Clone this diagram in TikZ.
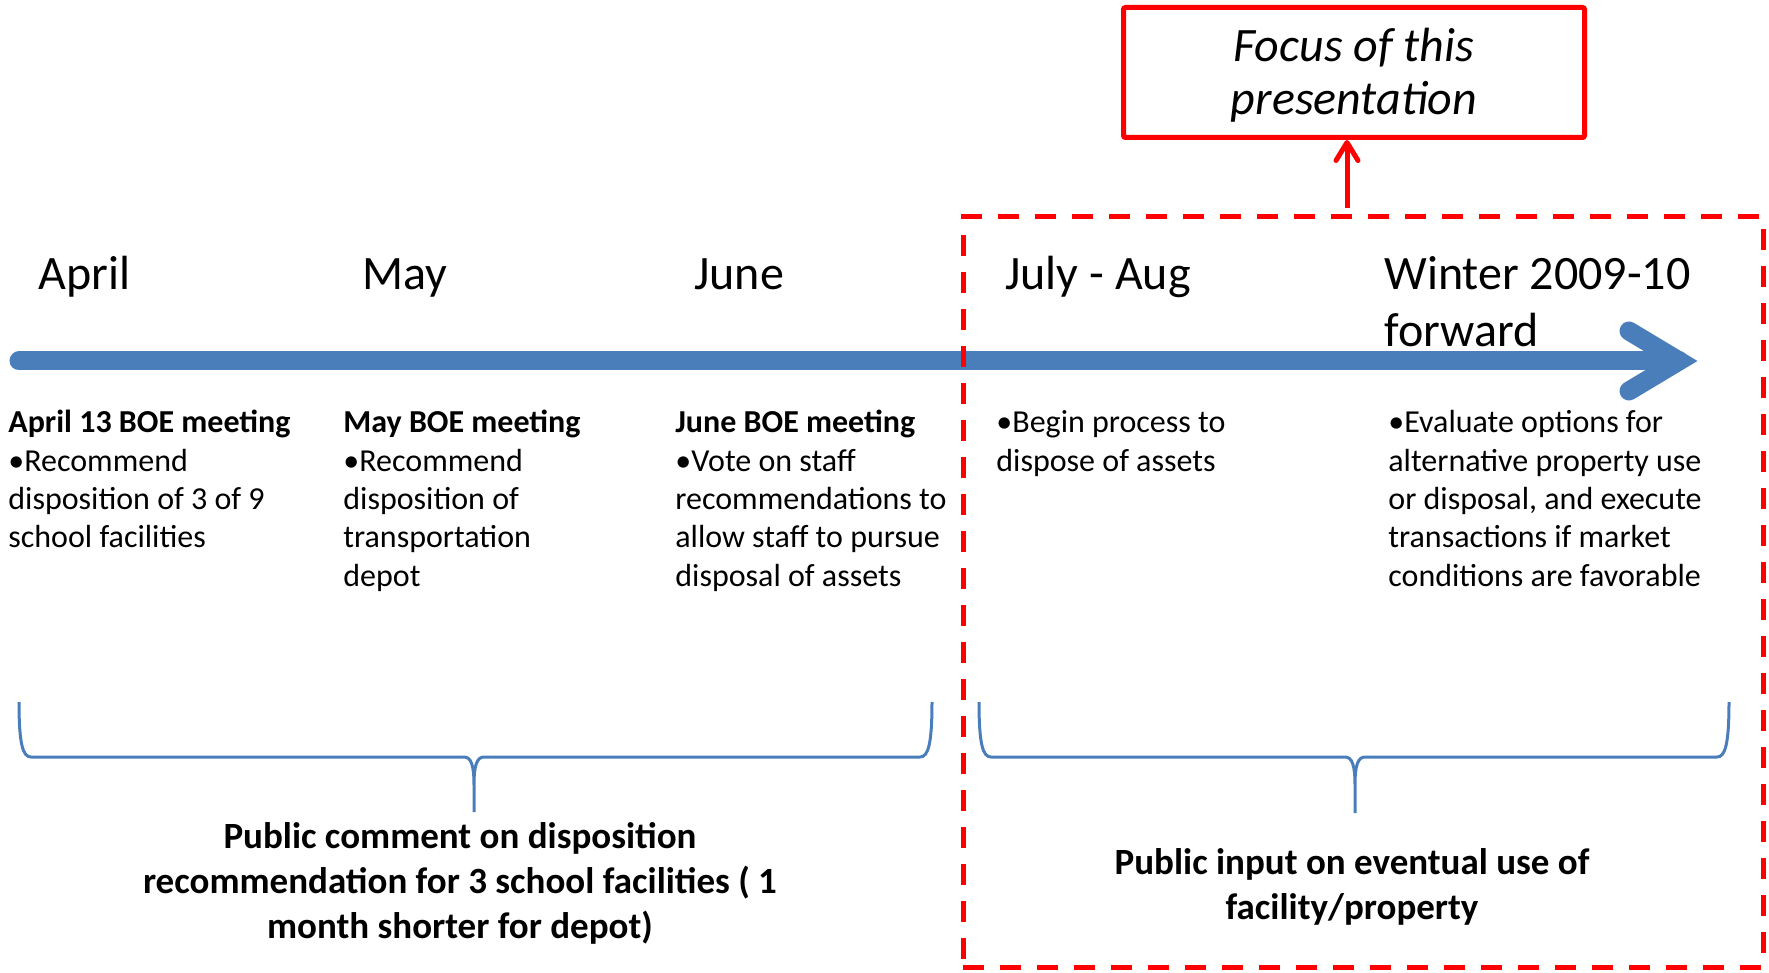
\documentclass[tikz,border=0pt]{standalone}
\usepackage{fontspec}
\setmainfont{Carlito}
\usetikzlibrary{arrows.meta,calc}
\definecolor{tlblue}{RGB}{74,126,187}
\definecolor{focusred}{RGB}{255,0,0}
% multi-line text whose reference point is the first baseline
\newcommand{\leftlines}[1]{\begin{tabular}[t]{@{}l@{}}#1\end{tabular}}
\newcommand{\centerlines}[1]{\begin{tabular}[t]{@{}c@{}}#1\end{tabular}}

\begin{document}
\begin{tikzpicture}[x=0.5pt,y=-0.5pt,
  month/.style={anchor=base west, inner sep=0, font=\fontsize{24}{28.5}\selectfont},
  body/.style={anchor=base west, inner sep=0, font=\fontsize{16}{19.15}\selectfont},
  summary/.style={anchor=base, inner sep=0, font=\fontsize{18.5}{22.5}\selectfont\bfseries},
  timeline/.style={draw=tlblue, line width=9.5pt},
  brace/.style={draw=tlblue, line width=1.5pt},
  focusbox/.style={draw=focusred, line width=2.5pt, rounded corners=1pt, minimum width=230.5pt, minimum height=65pt, inner sep=0},
  focustext/.style={anchor=base, inner sep=0, font=\fontsize{24}{26.5}\selectfont\itshape},
  focusarea/.style={draw=focusred, line width=2.5pt, dash pattern=on 10.5pt off 8pt, minimum width=400pt, minimum height=375pt, inner sep=0, outer sep=0},
  pointer/.style={draw=focusred, line width=2.5pt, -{Straight Barb[length=9pt, width=11pt, round]}},
]
\useasboundingbox (0,0) rectangle (1769,973);

% timeline
\coordinate (tlstart) at (19,361);
\coordinate (tltip) at (1679,361);
\draw[timeline, line cap=round] (tlstart) -- (tltip);
\draw[timeline, line cap=round, line join=miter] ($(tltip)+(-50,-30)$) -- (tltip) -- ($(tltip)+(-50,30)$);

% months
\node[month] (apr) at (38,290) {April};
\node[month] (may) at (362,290) {May};
\node[month] (jun) at (694,290) {June};
\node[month] (jul) at (1005,290) {July - Aug};
\node[month] (win) at (1384,290) {\leftlines{Winter 2009-10\\forward}};

% events
\node[body] (ev1) at (8,433) {\leftlines{\textbf{April 13 BOE meeting}\\•Recommend\\disposition of 3 of 9\\school facilities}};
\node[body] (ev2) at (343,433) {\leftlines{\textbf{May BOE meeting}\\•Recommend\\disposition of\\transportation\\depot}};
\node[body] (ev3) at (675,433) {\leftlines{\textbf{June BOE meeting}\\•Vote on staff\\recommendations to\\allow staff to pursue\\disposal of assets}};
\node[body] (ev4) at (996,433) {\leftlines{•Begin process to\\dispose of assets}};
\node[body] (ev5) at (1388,433) {\leftlines{•Evaluate options for\\alternative property use\\or disposal, and execute\\transactions if market\\conditions are favorable}};

% braces
\coordinate (b1tip) at (474,812);
\coordinate (b2tip) at (1355,813);
\draw[brace] (19,702) .. controls (19,745) and (23,757) .. (31,757) -- (464,757)
  .. controls (471,757) and (474,765) .. (474,785) -- (b1tip) -- (474,785)
  .. controls (474,765) and (477,757) .. (484,757) -- (920,757)
  .. controls (928,757) and (932,745) .. (932,702);
\draw[brace] (979,702) .. controls (979,745) and (983,757) .. (991,757) -- (1345,757)
  .. controls (1352,757) and (1355,765) .. (1355,785) -- (b2tip) -- (1355,785)
  .. controls (1355,765) and (1358,757) .. (1365,757) -- (1717,757)
  .. controls (1725,757) and (1729,745) .. (1729,702);

% summaries
\node[summary] (sum1) at (460,848) {\centerlines{Public comment on disposition\\recommendation for 3 school facilities ( 1\\month shorter for depot)}};
\node[summary] (sum2) at (1352,874) {\centerlines{Public input on eventual use of\\facility/property}};

% focus area
\node[focusarea] (area) at (1363,592) {};
\node[focusbox] (focus) at (1354,72.5) {};
\node[focustext] (focuslbl) at (1354,62) {\centerlines{Focus of this\\presentation}};
\draw[pointer] ([xshift=-8pt,yshift=4.5pt]area.north) -- ([xshift=-3.5pt]focus.south);
\end{tikzpicture}
\end{document}
